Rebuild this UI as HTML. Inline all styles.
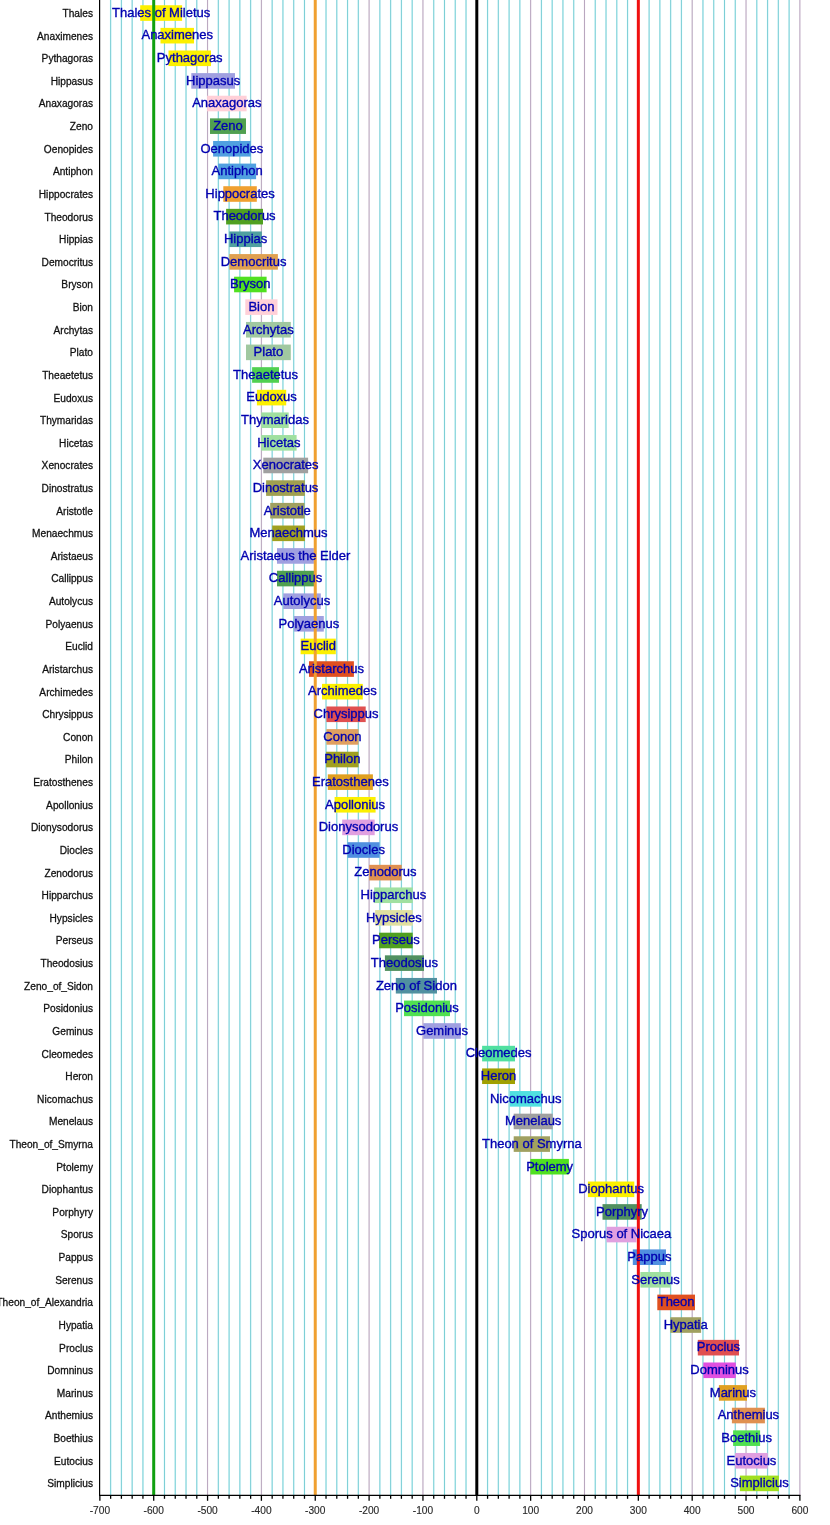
<!DOCTYPE html><html><head><meta charset="utf-8"><style>html,body{margin:0;padding:0;background:#fff;width:830px;height:1525px;overflow:hidden}svg{display:block;will-change:transform}text{font-family:"Liberation Sans",sans-serif}</style></head><body>
<div id="w"><svg width="830" height="1525" viewBox="0 0 830 1525">
<rect width="830" height="1525" fill="#fff"/>
<line x1="110.63" y1="0" x2="110.63" y2="1495.3" stroke="#d8f8fc" stroke-width="1.6"/>
<line x1="110.63" y1="0" x2="110.63" y2="1495.3" stroke="#6cc6ce" stroke-width="0.85"/>
<line x1="121.40" y1="0" x2="121.40" y2="1495.3" stroke="#d8f8fc" stroke-width="1.6"/>
<line x1="121.40" y1="0" x2="121.40" y2="1495.3" stroke="#6cc6ce" stroke-width="0.85"/>
<line x1="132.17" y1="0" x2="132.17" y2="1495.3" stroke="#d8f8fc" stroke-width="1.6"/>
<line x1="132.17" y1="0" x2="132.17" y2="1495.3" stroke="#6cc6ce" stroke-width="0.85"/>
<line x1="142.94" y1="0" x2="142.94" y2="1495.3" stroke="#d8f8fc" stroke-width="1.6"/>
<line x1="142.94" y1="0" x2="142.94" y2="1495.3" stroke="#6cc6ce" stroke-width="0.85"/>
<line x1="164.48" y1="0" x2="164.48" y2="1495.3" stroke="#d8f8fc" stroke-width="1.6"/>
<line x1="164.48" y1="0" x2="164.48" y2="1495.3" stroke="#6cc6ce" stroke-width="0.85"/>
<line x1="175.25" y1="0" x2="175.25" y2="1495.3" stroke="#d8f8fc" stroke-width="1.6"/>
<line x1="175.25" y1="0" x2="175.25" y2="1495.3" stroke="#6cc6ce" stroke-width="0.85"/>
<line x1="186.02" y1="0" x2="186.02" y2="1495.3" stroke="#d8f8fc" stroke-width="1.6"/>
<line x1="186.02" y1="0" x2="186.02" y2="1495.3" stroke="#6cc6ce" stroke-width="0.85"/>
<line x1="196.79" y1="0" x2="196.79" y2="1495.3" stroke="#d8f8fc" stroke-width="1.6"/>
<line x1="196.79" y1="0" x2="196.79" y2="1495.3" stroke="#6cc6ce" stroke-width="0.85"/>
<line x1="218.33" y1="0" x2="218.33" y2="1495.3" stroke="#d8f8fc" stroke-width="1.6"/>
<line x1="218.33" y1="0" x2="218.33" y2="1495.3" stroke="#6cc6ce" stroke-width="0.85"/>
<line x1="229.10" y1="0" x2="229.10" y2="1495.3" stroke="#d8f8fc" stroke-width="1.6"/>
<line x1="229.10" y1="0" x2="229.10" y2="1495.3" stroke="#6cc6ce" stroke-width="0.85"/>
<line x1="239.86" y1="0" x2="239.86" y2="1495.3" stroke="#d8f8fc" stroke-width="1.6"/>
<line x1="239.86" y1="0" x2="239.86" y2="1495.3" stroke="#6cc6ce" stroke-width="0.85"/>
<line x1="250.63" y1="0" x2="250.63" y2="1495.3" stroke="#d8f8fc" stroke-width="1.6"/>
<line x1="250.63" y1="0" x2="250.63" y2="1495.3" stroke="#6cc6ce" stroke-width="0.85"/>
<line x1="272.17" y1="0" x2="272.17" y2="1495.3" stroke="#d8f8fc" stroke-width="1.6"/>
<line x1="272.17" y1="0" x2="272.17" y2="1495.3" stroke="#6cc6ce" stroke-width="0.85"/>
<line x1="282.94" y1="0" x2="282.94" y2="1495.3" stroke="#d8f8fc" stroke-width="1.6"/>
<line x1="282.94" y1="0" x2="282.94" y2="1495.3" stroke="#6cc6ce" stroke-width="0.85"/>
<line x1="293.71" y1="0" x2="293.71" y2="1495.3" stroke="#d8f8fc" stroke-width="1.6"/>
<line x1="293.71" y1="0" x2="293.71" y2="1495.3" stroke="#6cc6ce" stroke-width="0.85"/>
<line x1="304.48" y1="0" x2="304.48" y2="1495.3" stroke="#d8f8fc" stroke-width="1.6"/>
<line x1="304.48" y1="0" x2="304.48" y2="1495.3" stroke="#6cc6ce" stroke-width="0.85"/>
<line x1="326.02" y1="0" x2="326.02" y2="1495.3" stroke="#d8f8fc" stroke-width="1.6"/>
<line x1="326.02" y1="0" x2="326.02" y2="1495.3" stroke="#6cc6ce" stroke-width="0.85"/>
<line x1="336.79" y1="0" x2="336.79" y2="1495.3" stroke="#d8f8fc" stroke-width="1.6"/>
<line x1="336.79" y1="0" x2="336.79" y2="1495.3" stroke="#6cc6ce" stroke-width="0.85"/>
<line x1="347.56" y1="0" x2="347.56" y2="1495.3" stroke="#d8f8fc" stroke-width="1.6"/>
<line x1="347.56" y1="0" x2="347.56" y2="1495.3" stroke="#6cc6ce" stroke-width="0.85"/>
<line x1="358.33" y1="0" x2="358.33" y2="1495.3" stroke="#d8f8fc" stroke-width="1.6"/>
<line x1="358.33" y1="0" x2="358.33" y2="1495.3" stroke="#6cc6ce" stroke-width="0.85"/>
<line x1="379.87" y1="0" x2="379.87" y2="1495.3" stroke="#d8f8fc" stroke-width="1.6"/>
<line x1="379.87" y1="0" x2="379.87" y2="1495.3" stroke="#6cc6ce" stroke-width="0.85"/>
<line x1="390.64" y1="0" x2="390.64" y2="1495.3" stroke="#d8f8fc" stroke-width="1.6"/>
<line x1="390.64" y1="0" x2="390.64" y2="1495.3" stroke="#6cc6ce" stroke-width="0.85"/>
<line x1="401.41" y1="0" x2="401.41" y2="1495.3" stroke="#d8f8fc" stroke-width="1.6"/>
<line x1="401.41" y1="0" x2="401.41" y2="1495.3" stroke="#6cc6ce" stroke-width="0.85"/>
<line x1="412.18" y1="0" x2="412.18" y2="1495.3" stroke="#d8f8fc" stroke-width="1.6"/>
<line x1="412.18" y1="0" x2="412.18" y2="1495.3" stroke="#6cc6ce" stroke-width="0.85"/>
<line x1="433.72" y1="0" x2="433.72" y2="1495.3" stroke="#d8f8fc" stroke-width="1.6"/>
<line x1="433.72" y1="0" x2="433.72" y2="1495.3" stroke="#6cc6ce" stroke-width="0.85"/>
<line x1="444.49" y1="0" x2="444.49" y2="1495.3" stroke="#d8f8fc" stroke-width="1.6"/>
<line x1="444.49" y1="0" x2="444.49" y2="1495.3" stroke="#6cc6ce" stroke-width="0.85"/>
<line x1="455.26" y1="0" x2="455.26" y2="1495.3" stroke="#d8f8fc" stroke-width="1.6"/>
<line x1="455.26" y1="0" x2="455.26" y2="1495.3" stroke="#6cc6ce" stroke-width="0.85"/>
<line x1="466.03" y1="0" x2="466.03" y2="1495.3" stroke="#d8f8fc" stroke-width="1.6"/>
<line x1="466.03" y1="0" x2="466.03" y2="1495.3" stroke="#6cc6ce" stroke-width="0.85"/>
<line x1="487.57" y1="0" x2="487.57" y2="1495.3" stroke="#d8f8fc" stroke-width="1.6"/>
<line x1="487.57" y1="0" x2="487.57" y2="1495.3" stroke="#6cc6ce" stroke-width="0.85"/>
<line x1="498.34" y1="0" x2="498.34" y2="1495.3" stroke="#d8f8fc" stroke-width="1.6"/>
<line x1="498.34" y1="0" x2="498.34" y2="1495.3" stroke="#6cc6ce" stroke-width="0.85"/>
<line x1="509.10" y1="0" x2="509.10" y2="1495.3" stroke="#d8f8fc" stroke-width="1.6"/>
<line x1="509.10" y1="0" x2="509.10" y2="1495.3" stroke="#6cc6ce" stroke-width="0.85"/>
<line x1="519.87" y1="0" x2="519.87" y2="1495.3" stroke="#d8f8fc" stroke-width="1.6"/>
<line x1="519.87" y1="0" x2="519.87" y2="1495.3" stroke="#6cc6ce" stroke-width="0.85"/>
<line x1="541.41" y1="0" x2="541.41" y2="1495.3" stroke="#d8f8fc" stroke-width="1.6"/>
<line x1="541.41" y1="0" x2="541.41" y2="1495.3" stroke="#6cc6ce" stroke-width="0.85"/>
<line x1="552.18" y1="0" x2="552.18" y2="1495.3" stroke="#d8f8fc" stroke-width="1.6"/>
<line x1="552.18" y1="0" x2="552.18" y2="1495.3" stroke="#6cc6ce" stroke-width="0.85"/>
<line x1="562.95" y1="0" x2="562.95" y2="1495.3" stroke="#d8f8fc" stroke-width="1.6"/>
<line x1="562.95" y1="0" x2="562.95" y2="1495.3" stroke="#6cc6ce" stroke-width="0.85"/>
<line x1="573.72" y1="0" x2="573.72" y2="1495.3" stroke="#d8f8fc" stroke-width="1.6"/>
<line x1="573.72" y1="0" x2="573.72" y2="1495.3" stroke="#6cc6ce" stroke-width="0.85"/>
<line x1="595.26" y1="0" x2="595.26" y2="1495.3" stroke="#d8f8fc" stroke-width="1.6"/>
<line x1="595.26" y1="0" x2="595.26" y2="1495.3" stroke="#6cc6ce" stroke-width="0.85"/>
<line x1="606.03" y1="0" x2="606.03" y2="1495.3" stroke="#d8f8fc" stroke-width="1.6"/>
<line x1="606.03" y1="0" x2="606.03" y2="1495.3" stroke="#6cc6ce" stroke-width="0.85"/>
<line x1="616.80" y1="0" x2="616.80" y2="1495.3" stroke="#d8f8fc" stroke-width="1.6"/>
<line x1="616.80" y1="0" x2="616.80" y2="1495.3" stroke="#6cc6ce" stroke-width="0.85"/>
<line x1="627.57" y1="0" x2="627.57" y2="1495.3" stroke="#d8f8fc" stroke-width="1.6"/>
<line x1="627.57" y1="0" x2="627.57" y2="1495.3" stroke="#6cc6ce" stroke-width="0.85"/>
<line x1="649.11" y1="0" x2="649.11" y2="1495.3" stroke="#d8f8fc" stroke-width="1.6"/>
<line x1="649.11" y1="0" x2="649.11" y2="1495.3" stroke="#6cc6ce" stroke-width="0.85"/>
<line x1="659.88" y1="0" x2="659.88" y2="1495.3" stroke="#d8f8fc" stroke-width="1.6"/>
<line x1="659.88" y1="0" x2="659.88" y2="1495.3" stroke="#6cc6ce" stroke-width="0.85"/>
<line x1="670.65" y1="0" x2="670.65" y2="1495.3" stroke="#d8f8fc" stroke-width="1.6"/>
<line x1="670.65" y1="0" x2="670.65" y2="1495.3" stroke="#6cc6ce" stroke-width="0.85"/>
<line x1="681.42" y1="0" x2="681.42" y2="1495.3" stroke="#d8f8fc" stroke-width="1.6"/>
<line x1="681.42" y1="0" x2="681.42" y2="1495.3" stroke="#6cc6ce" stroke-width="0.85"/>
<line x1="702.96" y1="0" x2="702.96" y2="1495.3" stroke="#d8f8fc" stroke-width="1.6"/>
<line x1="702.96" y1="0" x2="702.96" y2="1495.3" stroke="#6cc6ce" stroke-width="0.85"/>
<line x1="713.73" y1="0" x2="713.73" y2="1495.3" stroke="#d8f8fc" stroke-width="1.6"/>
<line x1="713.73" y1="0" x2="713.73" y2="1495.3" stroke="#6cc6ce" stroke-width="0.85"/>
<line x1="724.50" y1="0" x2="724.50" y2="1495.3" stroke="#d8f8fc" stroke-width="1.6"/>
<line x1="724.50" y1="0" x2="724.50" y2="1495.3" stroke="#6cc6ce" stroke-width="0.85"/>
<line x1="735.27" y1="0" x2="735.27" y2="1495.3" stroke="#d8f8fc" stroke-width="1.6"/>
<line x1="735.27" y1="0" x2="735.27" y2="1495.3" stroke="#6cc6ce" stroke-width="0.85"/>
<line x1="756.81" y1="0" x2="756.81" y2="1495.3" stroke="#d8f8fc" stroke-width="1.6"/>
<line x1="756.81" y1="0" x2="756.81" y2="1495.3" stroke="#6cc6ce" stroke-width="0.85"/>
<line x1="767.58" y1="0" x2="767.58" y2="1495.3" stroke="#d8f8fc" stroke-width="1.6"/>
<line x1="767.58" y1="0" x2="767.58" y2="1495.3" stroke="#6cc6ce" stroke-width="0.85"/>
<line x1="778.34" y1="0" x2="778.34" y2="1495.3" stroke="#d8f8fc" stroke-width="1.6"/>
<line x1="778.34" y1="0" x2="778.34" y2="1495.3" stroke="#6cc6ce" stroke-width="0.85"/>
<line x1="789.11" y1="0" x2="789.11" y2="1495.3" stroke="#d8f8fc" stroke-width="1.6"/>
<line x1="789.11" y1="0" x2="789.11" y2="1495.3" stroke="#6cc6ce" stroke-width="0.85"/>
<line x1="153.71" y1="0" x2="153.71" y2="1495.3" stroke="#f6f0f6" stroke-width="1.6"/>
<line x1="153.71" y1="0" x2="153.71" y2="1495.3" stroke="#ac98b4" stroke-width="0.85"/>
<line x1="207.56" y1="0" x2="207.56" y2="1495.3" stroke="#f6f0f6" stroke-width="1.6"/>
<line x1="207.56" y1="0" x2="207.56" y2="1495.3" stroke="#ac98b4" stroke-width="0.85"/>
<line x1="261.40" y1="0" x2="261.40" y2="1495.3" stroke="#f6f0f6" stroke-width="1.6"/>
<line x1="261.40" y1="0" x2="261.40" y2="1495.3" stroke="#ac98b4" stroke-width="0.85"/>
<line x1="315.25" y1="0" x2="315.25" y2="1495.3" stroke="#f6f0f6" stroke-width="1.6"/>
<line x1="315.25" y1="0" x2="315.25" y2="1495.3" stroke="#ac98b4" stroke-width="0.85"/>
<line x1="369.10" y1="0" x2="369.10" y2="1495.3" stroke="#f6f0f6" stroke-width="1.6"/>
<line x1="369.10" y1="0" x2="369.10" y2="1495.3" stroke="#ac98b4" stroke-width="0.85"/>
<line x1="422.95" y1="0" x2="422.95" y2="1495.3" stroke="#f6f0f6" stroke-width="1.6"/>
<line x1="422.95" y1="0" x2="422.95" y2="1495.3" stroke="#ac98b4" stroke-width="0.85"/>
<line x1="476.80" y1="0" x2="476.80" y2="1495.3" stroke="#f6f0f6" stroke-width="1.6"/>
<line x1="476.80" y1="0" x2="476.80" y2="1495.3" stroke="#ac98b4" stroke-width="0.85"/>
<line x1="530.64" y1="0" x2="530.64" y2="1495.3" stroke="#f6f0f6" stroke-width="1.6"/>
<line x1="530.64" y1="0" x2="530.64" y2="1495.3" stroke="#ac98b4" stroke-width="0.85"/>
<line x1="584.49" y1="0" x2="584.49" y2="1495.3" stroke="#f6f0f6" stroke-width="1.6"/>
<line x1="584.49" y1="0" x2="584.49" y2="1495.3" stroke="#ac98b4" stroke-width="0.85"/>
<line x1="638.34" y1="0" x2="638.34" y2="1495.3" stroke="#f6f0f6" stroke-width="1.6"/>
<line x1="638.34" y1="0" x2="638.34" y2="1495.3" stroke="#ac98b4" stroke-width="0.85"/>
<line x1="692.19" y1="0" x2="692.19" y2="1495.3" stroke="#f6f0f6" stroke-width="1.6"/>
<line x1="692.19" y1="0" x2="692.19" y2="1495.3" stroke="#ac98b4" stroke-width="0.85"/>
<line x1="746.04" y1="0" x2="746.04" y2="1495.3" stroke="#f6f0f6" stroke-width="1.6"/>
<line x1="746.04" y1="0" x2="746.04" y2="1495.3" stroke="#ac98b4" stroke-width="0.85"/>
<line x1="799.88" y1="0" x2="799.88" y2="1495.3" stroke="#f6f0f6" stroke-width="1.6"/>
<line x1="799.88" y1="0" x2="799.88" y2="1495.3" stroke="#ac98b4" stroke-width="0.85"/>
<rect x="140.2" y="5.25" width="41.9" height="15.6" fill="#fcf000"/>
<rect x="160.5" y="27.87" width="33.5" height="15.6" fill="#fcf000"/>
<rect x="168.5" y="50.49" width="42.5" height="15.6" fill="#fcf000"/>
<rect x="191.3" y="73.11" width="43.7" height="15.6" fill="#a0a0e0"/>
<rect x="207.1" y="95.73" width="39.5" height="15.6" fill="#ffd0d8"/>
<rect x="210.0" y="118.35" width="36.0" height="15.6" fill="#50a050"/>
<rect x="213.1" y="140.97" width="37.6" height="15.6" fill="#50a0e0"/>
<rect x="218.2" y="163.59" width="37.9" height="15.6" fill="#50a0e0"/>
<rect x="223.3" y="186.21" width="33.5" height="15.6" fill="#f0a030"/>
<rect x="226.1" y="208.84" width="36.9" height="15.6" fill="#50a020"/>
<rect x="229.3" y="231.46" width="32.6" height="15.6" fill="#50a0a0"/>
<rect x="229.3" y="254.08" width="48.6" height="15.6" fill="#e0a050"/>
<rect x="234.1" y="276.70" width="32.5" height="15.6" fill="#50e020"/>
<rect x="245.3" y="299.32" width="32.2" height="15.6" fill="#ffd0d8"/>
<rect x="246.0" y="321.94" width="44.8" height="15.6" fill="#a0c8a0"/>
<rect x="246.0" y="344.56" width="44.8" height="15.6" fill="#a0c8a0"/>
<rect x="252.1" y="367.18" width="26.9" height="15.6" fill="#50d050"/>
<rect x="256.9" y="389.80" width="29.3" height="15.6" fill="#fcf000"/>
<rect x="261.2" y="412.42" width="27.5" height="15.6" fill="#a0e0a0"/>
<rect x="261.2" y="435.04" width="35.4" height="15.6" fill="#a0e0a0"/>
<rect x="263.3" y="457.66" width="44.8" height="15.6" fill="#a0a0a0"/>
<rect x="266.1" y="480.28" width="38.8" height="15.6" fill="#a0a050"/>
<rect x="270.2" y="502.90" width="34.3" height="15.6" fill="#a0a060"/>
<rect x="272.2" y="525.52" width="32.7" height="15.6" fill="#a0a020"/>
<rect x="277.0" y="548.14" width="36.9" height="15.6" fill="#a0a0e0"/>
<rect x="277.0" y="570.76" width="37.1" height="15.6" fill="#50a050"/>
<rect x="283.2" y="593.39" width="37.6" height="15.6" fill="#a0a0e0"/>
<rect x="293.9" y="616.01" width="29.9" height="15.6" fill="#a0a0e0"/>
<rect x="300.6" y="638.63" width="35.2" height="15.6" fill="#fcf000"/>
<rect x="309.0" y="661.25" width="44.9" height="15.6" fill="#e05020"/>
<rect x="322.0" y="683.87" width="40.8" height="15.6" fill="#fcf000"/>
<rect x="326.4" y="706.49" width="39.3" height="15.6" fill="#e05050"/>
<rect x="326.4" y="729.11" width="32.1" height="15.6" fill="#e0a060"/>
<rect x="326.1" y="751.73" width="32.4" height="15.6" fill="#a0a020"/>
<rect x="327.8" y="774.35" width="45.1" height="15.6" fill="#e0a020"/>
<rect x="334.6" y="796.97" width="41.0" height="15.6" fill="#fcf000"/>
<rect x="342.2" y="819.59" width="32.5" height="15.6" fill="#e0a0e0"/>
<rect x="347.6" y="842.21" width="32.0" height="15.6" fill="#5090e0"/>
<rect x="369.2" y="864.83" width="32.5" height="15.6" fill="#e09050"/>
<rect x="374.2" y="887.45" width="38.5" height="15.6" fill="#a0e0a0"/>
<rect x="375.1" y="910.07" width="37.6" height="15.6" fill="#e0e0a0"/>
<rect x="379.1" y="932.69" width="33.6" height="15.6" fill="#50a020"/>
<rect x="384.9" y="955.32" width="39.1" height="15.6" fill="#509060"/>
<rect x="395.8" y="977.94" width="41.2" height="15.6" fill="#5090a0"/>
<rect x="404.0" y="1000.56" width="46.0" height="15.6" fill="#50e050"/>
<rect x="423.3" y="1023.18" width="37.5" height="15.6" fill="#a0a0e0"/>
<rect x="482.1" y="1045.80" width="32.9" height="15.6" fill="#50e0a0"/>
<rect x="482.1" y="1068.42" width="32.9" height="15.6" fill="#a0a000"/>
<rect x="509.8" y="1091.04" width="31.8" height="15.6" fill="#50e0e0"/>
<rect x="513.7" y="1113.66" width="39.0" height="15.6" fill="#a0a0a0"/>
<rect x="513.7" y="1136.28" width="36.3" height="15.6" fill="#a0a060"/>
<rect x="530.4" y="1158.90" width="38.5" height="15.6" fill="#50e020"/>
<rect x="587.9" y="1181.52" width="46.4" height="15.6" fill="#fcf000"/>
<rect x="602.5" y="1204.14" width="39.2" height="15.6" fill="#509060"/>
<rect x="606.5" y="1226.76" width="29.9" height="15.6" fill="#e0a0e0"/>
<rect x="632.8" y="1249.38" width="33.2" height="15.6" fill="#5090e0"/>
<rect x="640.4" y="1272.00" width="30.3" height="15.6" fill="#a0e0a0"/>
<rect x="657.3" y="1294.62" width="37.7" height="15.6" fill="#e05020"/>
<rect x="670.3" y="1317.24" width="30.8" height="15.6" fill="#a0a060"/>
<rect x="697.8" y="1339.87" width="41.2" height="15.6" fill="#e05050"/>
<rect x="703.3" y="1362.49" width="32.5" height="15.6" fill="#e050e0"/>
<rect x="718.9" y="1385.11" width="28.1" height="15.6" fill="#e0a020"/>
<rect x="731.9" y="1407.73" width="33.0" height="15.6" fill="#e09050"/>
<rect x="733.1" y="1430.35" width="27.0" height="15.6" fill="#50e050"/>
<rect x="735.1" y="1452.97" width="32.7" height="15.6" fill="#e0a0e0"/>
<rect x="739.9" y="1475.59" width="39.0" height="15.6" fill="#a0e020"/>
<line x1="153.71" y1="0" x2="153.71" y2="1495.3" stroke="#10a010" stroke-width="3"/>
<line x1="315.25" y1="0" x2="315.25" y2="1495.3" stroke="#f0a030" stroke-width="3"/>
<line x1="476.80" y1="0" x2="476.80" y2="1495.3" stroke="#000" stroke-width="3"/>
<line x1="638.34" y1="0" x2="638.34" y2="1495.3" stroke="#f01010" stroke-width="3"/>
<line x1="99.6" y1="0" x2="99.6" y2="1495.8" stroke="#000" stroke-width="1.2"/>
<line x1="99" y1="1495.3" x2="800.48" y2="1495.3" stroke="#000" stroke-width="1.2"/>
<line x1="99.86" y1="1495.3" x2="99.86" y2="1500.8" stroke="#000" stroke-width="1.3"/>
<line x1="110.63" y1="1495.3" x2="110.63" y2="1498.8" stroke="#000" stroke-width="1.3"/>
<line x1="121.40" y1="1495.3" x2="121.40" y2="1498.8" stroke="#000" stroke-width="1.3"/>
<line x1="132.17" y1="1495.3" x2="132.17" y2="1498.8" stroke="#000" stroke-width="1.3"/>
<line x1="142.94" y1="1495.3" x2="142.94" y2="1498.8" stroke="#000" stroke-width="1.3"/>
<line x1="153.71" y1="1495.3" x2="153.71" y2="1500.8" stroke="#000" stroke-width="1.3"/>
<line x1="164.48" y1="1495.3" x2="164.48" y2="1498.8" stroke="#000" stroke-width="1.3"/>
<line x1="175.25" y1="1495.3" x2="175.25" y2="1498.8" stroke="#000" stroke-width="1.3"/>
<line x1="186.02" y1="1495.3" x2="186.02" y2="1498.8" stroke="#000" stroke-width="1.3"/>
<line x1="196.79" y1="1495.3" x2="196.79" y2="1498.8" stroke="#000" stroke-width="1.3"/>
<line x1="207.56" y1="1495.3" x2="207.56" y2="1500.8" stroke="#000" stroke-width="1.3"/>
<line x1="218.33" y1="1495.3" x2="218.33" y2="1498.8" stroke="#000" stroke-width="1.3"/>
<line x1="229.10" y1="1495.3" x2="229.10" y2="1498.8" stroke="#000" stroke-width="1.3"/>
<line x1="239.86" y1="1495.3" x2="239.86" y2="1498.8" stroke="#000" stroke-width="1.3"/>
<line x1="250.63" y1="1495.3" x2="250.63" y2="1498.8" stroke="#000" stroke-width="1.3"/>
<line x1="261.40" y1="1495.3" x2="261.40" y2="1500.8" stroke="#000" stroke-width="1.3"/>
<line x1="272.17" y1="1495.3" x2="272.17" y2="1498.8" stroke="#000" stroke-width="1.3"/>
<line x1="282.94" y1="1495.3" x2="282.94" y2="1498.8" stroke="#000" stroke-width="1.3"/>
<line x1="293.71" y1="1495.3" x2="293.71" y2="1498.8" stroke="#000" stroke-width="1.3"/>
<line x1="304.48" y1="1495.3" x2="304.48" y2="1498.8" stroke="#000" stroke-width="1.3"/>
<line x1="315.25" y1="1495.3" x2="315.25" y2="1500.8" stroke="#000" stroke-width="1.3"/>
<line x1="326.02" y1="1495.3" x2="326.02" y2="1498.8" stroke="#000" stroke-width="1.3"/>
<line x1="336.79" y1="1495.3" x2="336.79" y2="1498.8" stroke="#000" stroke-width="1.3"/>
<line x1="347.56" y1="1495.3" x2="347.56" y2="1498.8" stroke="#000" stroke-width="1.3"/>
<line x1="358.33" y1="1495.3" x2="358.33" y2="1498.8" stroke="#000" stroke-width="1.3"/>
<line x1="369.10" y1="1495.3" x2="369.10" y2="1500.8" stroke="#000" stroke-width="1.3"/>
<line x1="379.87" y1="1495.3" x2="379.87" y2="1498.8" stroke="#000" stroke-width="1.3"/>
<line x1="390.64" y1="1495.3" x2="390.64" y2="1498.8" stroke="#000" stroke-width="1.3"/>
<line x1="401.41" y1="1495.3" x2="401.41" y2="1498.8" stroke="#000" stroke-width="1.3"/>
<line x1="412.18" y1="1495.3" x2="412.18" y2="1498.8" stroke="#000" stroke-width="1.3"/>
<line x1="422.95" y1="1495.3" x2="422.95" y2="1500.8" stroke="#000" stroke-width="1.3"/>
<line x1="433.72" y1="1495.3" x2="433.72" y2="1498.8" stroke="#000" stroke-width="1.3"/>
<line x1="444.49" y1="1495.3" x2="444.49" y2="1498.8" stroke="#000" stroke-width="1.3"/>
<line x1="455.26" y1="1495.3" x2="455.26" y2="1498.8" stroke="#000" stroke-width="1.3"/>
<line x1="466.03" y1="1495.3" x2="466.03" y2="1498.8" stroke="#000" stroke-width="1.3"/>
<line x1="476.80" y1="1495.3" x2="476.80" y2="1500.8" stroke="#000" stroke-width="1.3"/>
<line x1="487.57" y1="1495.3" x2="487.57" y2="1498.8" stroke="#000" stroke-width="1.3"/>
<line x1="498.34" y1="1495.3" x2="498.34" y2="1498.8" stroke="#000" stroke-width="1.3"/>
<line x1="509.10" y1="1495.3" x2="509.10" y2="1498.8" stroke="#000" stroke-width="1.3"/>
<line x1="519.87" y1="1495.3" x2="519.87" y2="1498.8" stroke="#000" stroke-width="1.3"/>
<line x1="530.64" y1="1495.3" x2="530.64" y2="1500.8" stroke="#000" stroke-width="1.3"/>
<line x1="541.41" y1="1495.3" x2="541.41" y2="1498.8" stroke="#000" stroke-width="1.3"/>
<line x1="552.18" y1="1495.3" x2="552.18" y2="1498.8" stroke="#000" stroke-width="1.3"/>
<line x1="562.95" y1="1495.3" x2="562.95" y2="1498.8" stroke="#000" stroke-width="1.3"/>
<line x1="573.72" y1="1495.3" x2="573.72" y2="1498.8" stroke="#000" stroke-width="1.3"/>
<line x1="584.49" y1="1495.3" x2="584.49" y2="1500.8" stroke="#000" stroke-width="1.3"/>
<line x1="595.26" y1="1495.3" x2="595.26" y2="1498.8" stroke="#000" stroke-width="1.3"/>
<line x1="606.03" y1="1495.3" x2="606.03" y2="1498.8" stroke="#000" stroke-width="1.3"/>
<line x1="616.80" y1="1495.3" x2="616.80" y2="1498.8" stroke="#000" stroke-width="1.3"/>
<line x1="627.57" y1="1495.3" x2="627.57" y2="1498.8" stroke="#000" stroke-width="1.3"/>
<line x1="638.34" y1="1495.3" x2="638.34" y2="1500.8" stroke="#000" stroke-width="1.3"/>
<line x1="649.11" y1="1495.3" x2="649.11" y2="1498.8" stroke="#000" stroke-width="1.3"/>
<line x1="659.88" y1="1495.3" x2="659.88" y2="1498.8" stroke="#000" stroke-width="1.3"/>
<line x1="670.65" y1="1495.3" x2="670.65" y2="1498.8" stroke="#000" stroke-width="1.3"/>
<line x1="681.42" y1="1495.3" x2="681.42" y2="1498.8" stroke="#000" stroke-width="1.3"/>
<line x1="692.19" y1="1495.3" x2="692.19" y2="1500.8" stroke="#000" stroke-width="1.3"/>
<line x1="702.96" y1="1495.3" x2="702.96" y2="1498.8" stroke="#000" stroke-width="1.3"/>
<line x1="713.73" y1="1495.3" x2="713.73" y2="1498.8" stroke="#000" stroke-width="1.3"/>
<line x1="724.50" y1="1495.3" x2="724.50" y2="1498.8" stroke="#000" stroke-width="1.3"/>
<line x1="735.27" y1="1495.3" x2="735.27" y2="1498.8" stroke="#000" stroke-width="1.3"/>
<line x1="746.04" y1="1495.3" x2="746.04" y2="1500.8" stroke="#000" stroke-width="1.3"/>
<line x1="756.81" y1="1495.3" x2="756.81" y2="1498.8" stroke="#000" stroke-width="1.3"/>
<line x1="767.58" y1="1495.3" x2="767.58" y2="1498.8" stroke="#000" stroke-width="1.3"/>
<line x1="778.34" y1="1495.3" x2="778.34" y2="1498.8" stroke="#000" stroke-width="1.3"/>
<line x1="789.11" y1="1495.3" x2="789.11" y2="1498.8" stroke="#000" stroke-width="1.3"/>
<line x1="799.88" y1="1495.3" x2="799.88" y2="1500.8" stroke="#000" stroke-width="1.3"/>
<text transform="translate(99.86,1514) scale(0.925,1)" text-anchor="middle" font-size="11" fill="#2a2a2a" stroke="#2a2a2a" stroke-width="0.15">-700</text>
<text transform="translate(153.71,1514) scale(0.925,1)" text-anchor="middle" font-size="11" fill="#2a2a2a" stroke="#2a2a2a" stroke-width="0.15">-600</text>
<text transform="translate(207.56,1514) scale(0.925,1)" text-anchor="middle" font-size="11" fill="#2a2a2a" stroke="#2a2a2a" stroke-width="0.15">-500</text>
<text transform="translate(261.40,1514) scale(0.925,1)" text-anchor="middle" font-size="11" fill="#2a2a2a" stroke="#2a2a2a" stroke-width="0.15">-400</text>
<text transform="translate(315.25,1514) scale(0.925,1)" text-anchor="middle" font-size="11" fill="#2a2a2a" stroke="#2a2a2a" stroke-width="0.15">-300</text>
<text transform="translate(369.10,1514) scale(0.925,1)" text-anchor="middle" font-size="11" fill="#2a2a2a" stroke="#2a2a2a" stroke-width="0.15">-200</text>
<text transform="translate(422.95,1514) scale(0.925,1)" text-anchor="middle" font-size="11" fill="#2a2a2a" stroke="#2a2a2a" stroke-width="0.15">-100</text>
<text transform="translate(476.80,1514) scale(0.925,1)" text-anchor="middle" font-size="11" fill="#2a2a2a" stroke="#2a2a2a" stroke-width="0.15">0</text>
<text transform="translate(530.64,1514) scale(0.925,1)" text-anchor="middle" font-size="11" fill="#2a2a2a" stroke="#2a2a2a" stroke-width="0.15">100</text>
<text transform="translate(584.49,1514) scale(0.925,1)" text-anchor="middle" font-size="11" fill="#2a2a2a" stroke="#2a2a2a" stroke-width="0.15">200</text>
<text transform="translate(638.34,1514) scale(0.925,1)" text-anchor="middle" font-size="11" fill="#2a2a2a" stroke="#2a2a2a" stroke-width="0.15">300</text>
<text transform="translate(692.19,1514) scale(0.925,1)" text-anchor="middle" font-size="11" fill="#2a2a2a" stroke="#2a2a2a" stroke-width="0.15">400</text>
<text transform="translate(746.04,1514) scale(0.925,1)" text-anchor="middle" font-size="11" fill="#2a2a2a" stroke="#2a2a2a" stroke-width="0.15">500</text>
<text transform="translate(799.88,1514) scale(0.925,1)" text-anchor="middle" font-size="11" fill="#2a2a2a" stroke="#2a2a2a" stroke-width="0.15">600</text>
<text transform="translate(93.0,16.95) scale(0.925,1)" text-anchor="end" font-size="11" fill="#111" stroke="#111" stroke-width="0.3">Thales</text>
<text transform="translate(93.0,39.57) scale(0.925,1)" text-anchor="end" font-size="11" fill="#111" stroke="#111" stroke-width="0.3">Anaximenes</text>
<text transform="translate(93.0,62.19) scale(0.925,1)" text-anchor="end" font-size="11" fill="#111" stroke="#111" stroke-width="0.3">Pythagoras</text>
<text transform="translate(93.0,84.81) scale(0.925,1)" text-anchor="end" font-size="11" fill="#111" stroke="#111" stroke-width="0.3">Hippasus</text>
<text transform="translate(93.0,107.43) scale(0.925,1)" text-anchor="end" font-size="11" fill="#111" stroke="#111" stroke-width="0.3">Anaxagoras</text>
<text transform="translate(93.0,130.05) scale(0.925,1)" text-anchor="end" font-size="11" fill="#111" stroke="#111" stroke-width="0.3">Zeno</text>
<text transform="translate(93.0,152.67) scale(0.925,1)" text-anchor="end" font-size="11" fill="#111" stroke="#111" stroke-width="0.3">Oenopides</text>
<text transform="translate(93.0,175.29) scale(0.925,1)" text-anchor="end" font-size="11" fill="#111" stroke="#111" stroke-width="0.3">Antiphon</text>
<text transform="translate(93.0,197.91) scale(0.925,1)" text-anchor="end" font-size="11" fill="#111" stroke="#111" stroke-width="0.3">Hippocrates</text>
<text transform="translate(93.0,220.54) scale(0.925,1)" text-anchor="end" font-size="11" fill="#111" stroke="#111" stroke-width="0.3">Theodorus</text>
<text transform="translate(93.0,243.16) scale(0.925,1)" text-anchor="end" font-size="11" fill="#111" stroke="#111" stroke-width="0.3">Hippias</text>
<text transform="translate(93.0,265.78) scale(0.925,1)" text-anchor="end" font-size="11" fill="#111" stroke="#111" stroke-width="0.3">Democritus</text>
<text transform="translate(93.0,288.40) scale(0.925,1)" text-anchor="end" font-size="11" fill="#111" stroke="#111" stroke-width="0.3">Bryson</text>
<text transform="translate(93.0,311.02) scale(0.925,1)" text-anchor="end" font-size="11" fill="#111" stroke="#111" stroke-width="0.3">Bion</text>
<text transform="translate(93.0,333.64) scale(0.925,1)" text-anchor="end" font-size="11" fill="#111" stroke="#111" stroke-width="0.3">Archytas</text>
<text transform="translate(93.0,356.26) scale(0.925,1)" text-anchor="end" font-size="11" fill="#111" stroke="#111" stroke-width="0.3">Plato</text>
<text transform="translate(93.0,378.88) scale(0.925,1)" text-anchor="end" font-size="11" fill="#111" stroke="#111" stroke-width="0.3">Theaetetus</text>
<text transform="translate(93.0,401.50) scale(0.925,1)" text-anchor="end" font-size="11" fill="#111" stroke="#111" stroke-width="0.3">Eudoxus</text>
<text transform="translate(93.0,424.12) scale(0.925,1)" text-anchor="end" font-size="11" fill="#111" stroke="#111" stroke-width="0.3">Thymaridas</text>
<text transform="translate(93.0,446.74) scale(0.925,1)" text-anchor="end" font-size="11" fill="#111" stroke="#111" stroke-width="0.3">Hicetas</text>
<text transform="translate(93.0,469.36) scale(0.925,1)" text-anchor="end" font-size="11" fill="#111" stroke="#111" stroke-width="0.3">Xenocrates</text>
<text transform="translate(93.0,491.98) scale(0.925,1)" text-anchor="end" font-size="11" fill="#111" stroke="#111" stroke-width="0.3">Dinostratus</text>
<text transform="translate(93.0,514.60) scale(0.925,1)" text-anchor="end" font-size="11" fill="#111" stroke="#111" stroke-width="0.3">Aristotle</text>
<text transform="translate(93.0,537.22) scale(0.925,1)" text-anchor="end" font-size="11" fill="#111" stroke="#111" stroke-width="0.3">Menaechmus</text>
<text transform="translate(93.0,559.84) scale(0.925,1)" text-anchor="end" font-size="11" fill="#111" stroke="#111" stroke-width="0.3">Aristaeus</text>
<text transform="translate(93.0,582.46) scale(0.925,1)" text-anchor="end" font-size="11" fill="#111" stroke="#111" stroke-width="0.3">Callippus</text>
<text transform="translate(93.0,605.09) scale(0.925,1)" text-anchor="end" font-size="11" fill="#111" stroke="#111" stroke-width="0.3">Autolycus</text>
<text transform="translate(93.0,627.71) scale(0.925,1)" text-anchor="end" font-size="11" fill="#111" stroke="#111" stroke-width="0.3">Polyaenus</text>
<text transform="translate(93.0,650.33) scale(0.925,1)" text-anchor="end" font-size="11" fill="#111" stroke="#111" stroke-width="0.3">Euclid</text>
<text transform="translate(93.0,672.95) scale(0.925,1)" text-anchor="end" font-size="11" fill="#111" stroke="#111" stroke-width="0.3">Aristarchus</text>
<text transform="translate(93.0,695.57) scale(0.925,1)" text-anchor="end" font-size="11" fill="#111" stroke="#111" stroke-width="0.3">Archimedes</text>
<text transform="translate(93.0,718.19) scale(0.925,1)" text-anchor="end" font-size="11" fill="#111" stroke="#111" stroke-width="0.3">Chrysippus</text>
<text transform="translate(93.0,740.81) scale(0.925,1)" text-anchor="end" font-size="11" fill="#111" stroke="#111" stroke-width="0.3">Conon</text>
<text transform="translate(93.0,763.43) scale(0.925,1)" text-anchor="end" font-size="11" fill="#111" stroke="#111" stroke-width="0.3">Philon</text>
<text transform="translate(93.0,786.05) scale(0.925,1)" text-anchor="end" font-size="11" fill="#111" stroke="#111" stroke-width="0.3">Eratosthenes</text>
<text transform="translate(93.0,808.67) scale(0.925,1)" text-anchor="end" font-size="11" fill="#111" stroke="#111" stroke-width="0.3">Apollonius</text>
<text transform="translate(93.0,831.29) scale(0.925,1)" text-anchor="end" font-size="11" fill="#111" stroke="#111" stroke-width="0.3">Dionysodorus</text>
<text transform="translate(93.0,853.91) scale(0.925,1)" text-anchor="end" font-size="11" fill="#111" stroke="#111" stroke-width="0.3">Diocles</text>
<text transform="translate(93.0,876.53) scale(0.925,1)" text-anchor="end" font-size="11" fill="#111" stroke="#111" stroke-width="0.3">Zenodorus</text>
<text transform="translate(93.0,899.15) scale(0.925,1)" text-anchor="end" font-size="11" fill="#111" stroke="#111" stroke-width="0.3">Hipparchus</text>
<text transform="translate(93.0,921.77) scale(0.925,1)" text-anchor="end" font-size="11" fill="#111" stroke="#111" stroke-width="0.3">Hypsicles</text>
<text transform="translate(93.0,944.39) scale(0.925,1)" text-anchor="end" font-size="11" fill="#111" stroke="#111" stroke-width="0.3">Perseus</text>
<text transform="translate(93.0,967.02) scale(0.925,1)" text-anchor="end" font-size="11" fill="#111" stroke="#111" stroke-width="0.3">Theodosius</text>
<text transform="translate(93.0,989.64) scale(0.925,1)" text-anchor="end" font-size="11" fill="#111" stroke="#111" stroke-width="0.3">Zeno_of_Sidon</text>
<text transform="translate(93.0,1012.26) scale(0.925,1)" text-anchor="end" font-size="11" fill="#111" stroke="#111" stroke-width="0.3">Posidonius</text>
<text transform="translate(93.0,1034.88) scale(0.925,1)" text-anchor="end" font-size="11" fill="#111" stroke="#111" stroke-width="0.3">Geminus</text>
<text transform="translate(93.0,1057.50) scale(0.925,1)" text-anchor="end" font-size="11" fill="#111" stroke="#111" stroke-width="0.3">Cleomedes</text>
<text transform="translate(93.0,1080.12) scale(0.925,1)" text-anchor="end" font-size="11" fill="#111" stroke="#111" stroke-width="0.3">Heron</text>
<text transform="translate(93.0,1102.74) scale(0.925,1)" text-anchor="end" font-size="11" fill="#111" stroke="#111" stroke-width="0.3">Nicomachus</text>
<text transform="translate(93.0,1125.36) scale(0.925,1)" text-anchor="end" font-size="11" fill="#111" stroke="#111" stroke-width="0.3">Menelaus</text>
<text transform="translate(93.0,1147.98) scale(0.925,1)" text-anchor="end" font-size="11" fill="#111" stroke="#111" stroke-width="0.3">Theon_of_Smyrna</text>
<text transform="translate(93.0,1170.60) scale(0.925,1)" text-anchor="end" font-size="11" fill="#111" stroke="#111" stroke-width="0.3">Ptolemy</text>
<text transform="translate(93.0,1193.22) scale(0.925,1)" text-anchor="end" font-size="11" fill="#111" stroke="#111" stroke-width="0.3">Diophantus</text>
<text transform="translate(93.0,1215.84) scale(0.925,1)" text-anchor="end" font-size="11" fill="#111" stroke="#111" stroke-width="0.3">Porphyry</text>
<text transform="translate(93.0,1238.46) scale(0.925,1)" text-anchor="end" font-size="11" fill="#111" stroke="#111" stroke-width="0.3">Sporus</text>
<text transform="translate(93.0,1261.08) scale(0.925,1)" text-anchor="end" font-size="11" fill="#111" stroke="#111" stroke-width="0.3">Pappus</text>
<text transform="translate(93.0,1283.70) scale(0.925,1)" text-anchor="end" font-size="11" fill="#111" stroke="#111" stroke-width="0.3">Serenus</text>
<text transform="translate(93.0,1306.32) scale(0.925,1)" text-anchor="end" font-size="11" fill="#111" stroke="#111" stroke-width="0.3">Theon_of_Alexandria</text>
<text transform="translate(93.0,1328.94) scale(0.925,1)" text-anchor="end" font-size="11" fill="#111" stroke="#111" stroke-width="0.3">Hypatia</text>
<text transform="translate(93.0,1351.57) scale(0.925,1)" text-anchor="end" font-size="11" fill="#111" stroke="#111" stroke-width="0.3">Proclus</text>
<text transform="translate(93.0,1374.19) scale(0.925,1)" text-anchor="end" font-size="11" fill="#111" stroke="#111" stroke-width="0.3">Domninus</text>
<text transform="translate(93.0,1396.81) scale(0.925,1)" text-anchor="end" font-size="11" fill="#111" stroke="#111" stroke-width="0.3">Marinus</text>
<text transform="translate(93.0,1419.43) scale(0.925,1)" text-anchor="end" font-size="11" fill="#111" stroke="#111" stroke-width="0.3">Anthemius</text>
<text transform="translate(93.0,1442.05) scale(0.925,1)" text-anchor="end" font-size="11" fill="#111" stroke="#111" stroke-width="0.3">Boethius</text>
<text transform="translate(93.0,1464.67) scale(0.925,1)" text-anchor="end" font-size="11" fill="#111" stroke="#111" stroke-width="0.3">Eutocius</text>
<text transform="translate(93.0,1487.29) scale(0.925,1)" text-anchor="end" font-size="11" fill="#111" stroke="#111" stroke-width="0.3">Simplicius</text>
<text x="161.15" y="16.85" text-anchor="middle" font-size="13" fill="#0000b0" stroke="#0000b0" stroke-width="0.35">Thales of Miletus</text>
<text x="177.25" y="39.47" text-anchor="middle" font-size="13" fill="#0000b0" stroke="#0000b0" stroke-width="0.35">Anaximenes</text>
<text x="189.75" y="62.09" text-anchor="middle" font-size="13" fill="#0000b0" stroke="#0000b0" stroke-width="0.35">Pythagoras</text>
<text x="213.15" y="84.71" text-anchor="middle" font-size="13" fill="#0000b0" stroke="#0000b0" stroke-width="0.35">Hippasus</text>
<text x="226.85" y="107.33" text-anchor="middle" font-size="13" fill="#0000b0" stroke="#0000b0" stroke-width="0.35">Anaxagoras</text>
<text x="228.00" y="129.95" text-anchor="middle" font-size="13" fill="#0000b0" stroke="#0000b0" stroke-width="0.35">Zeno</text>
<text x="231.90" y="152.57" text-anchor="middle" font-size="13" fill="#0000b0" stroke="#0000b0" stroke-width="0.35">Oenopides</text>
<text x="237.15" y="175.19" text-anchor="middle" font-size="13" fill="#0000b0" stroke="#0000b0" stroke-width="0.35">Antiphon</text>
<text x="240.05" y="197.81" text-anchor="middle" font-size="13" fill="#0000b0" stroke="#0000b0" stroke-width="0.35">Hippocrates</text>
<text x="244.55" y="220.44" text-anchor="middle" font-size="13" fill="#0000b0" stroke="#0000b0" stroke-width="0.35">Theodorus</text>
<text x="245.60" y="243.06" text-anchor="middle" font-size="13" fill="#0000b0" stroke="#0000b0" stroke-width="0.35">Hippias</text>
<text x="253.60" y="265.68" text-anchor="middle" font-size="13" fill="#0000b0" stroke="#0000b0" stroke-width="0.35">Democritus</text>
<text x="250.35" y="288.30" text-anchor="middle" font-size="13" fill="#0000b0" stroke="#0000b0" stroke-width="0.35">Bryson</text>
<text x="261.40" y="310.92" text-anchor="middle" font-size="13" fill="#0000b0" stroke="#0000b0" stroke-width="0.35">Bion</text>
<text x="268.40" y="333.54" text-anchor="middle" font-size="13" fill="#0000b0" stroke="#0000b0" stroke-width="0.35">Archytas</text>
<text x="268.40" y="356.16" text-anchor="middle" font-size="13" fill="#0000b0" stroke="#0000b0" stroke-width="0.35">Plato</text>
<text x="265.55" y="378.78" text-anchor="middle" font-size="13" fill="#0000b0" stroke="#0000b0" stroke-width="0.35">Theaetetus</text>
<text x="271.55" y="401.40" text-anchor="middle" font-size="13" fill="#0000b0" stroke="#0000b0" stroke-width="0.35">Eudoxus</text>
<text x="274.95" y="424.02" text-anchor="middle" font-size="13" fill="#0000b0" stroke="#0000b0" stroke-width="0.35">Thymaridas</text>
<text x="278.90" y="446.64" text-anchor="middle" font-size="13" fill="#0000b0" stroke="#0000b0" stroke-width="0.35">Hicetas</text>
<text x="285.70" y="469.26" text-anchor="middle" font-size="13" fill="#0000b0" stroke="#0000b0" stroke-width="0.35">Xenocrates</text>
<text x="285.50" y="491.88" text-anchor="middle" font-size="13" fill="#0000b0" stroke="#0000b0" stroke-width="0.35">Dinostratus</text>
<text x="287.35" y="514.50" text-anchor="middle" font-size="13" fill="#0000b0" stroke="#0000b0" stroke-width="0.35">Aristotle</text>
<text x="288.55" y="537.12" text-anchor="middle" font-size="13" fill="#0000b0" stroke="#0000b0" stroke-width="0.35">Menaechmus</text>
<text x="295.45" y="559.74" text-anchor="middle" font-size="13" fill="#0000b0" stroke="#0000b0" stroke-width="0.35">Aristaeus the Elder</text>
<text x="295.55" y="582.36" text-anchor="middle" font-size="13" fill="#0000b0" stroke="#0000b0" stroke-width="0.35">Callippus</text>
<text x="302.00" y="604.99" text-anchor="middle" font-size="13" fill="#0000b0" stroke="#0000b0" stroke-width="0.35">Autolycus</text>
<text x="308.85" y="627.61" text-anchor="middle" font-size="13" fill="#0000b0" stroke="#0000b0" stroke-width="0.35">Polyaenus</text>
<text x="318.20" y="650.23" text-anchor="middle" font-size="13" fill="#0000b0" stroke="#0000b0" stroke-width="0.35">Euclid</text>
<text x="331.45" y="672.85" text-anchor="middle" font-size="13" fill="#0000b0" stroke="#0000b0" stroke-width="0.35">Aristarchus</text>
<text x="342.40" y="695.47" text-anchor="middle" font-size="13" fill="#0000b0" stroke="#0000b0" stroke-width="0.35">Archimedes</text>
<text x="346.05" y="718.09" text-anchor="middle" font-size="13" fill="#0000b0" stroke="#0000b0" stroke-width="0.35">Chrysippus</text>
<text x="342.45" y="740.71" text-anchor="middle" font-size="13" fill="#0000b0" stroke="#0000b0" stroke-width="0.35">Conon</text>
<text x="342.30" y="763.33" text-anchor="middle" font-size="13" fill="#0000b0" stroke="#0000b0" stroke-width="0.35">Philon</text>
<text x="350.35" y="785.95" text-anchor="middle" font-size="13" fill="#0000b0" stroke="#0000b0" stroke-width="0.35">Eratosthenes</text>
<text x="355.10" y="808.57" text-anchor="middle" font-size="13" fill="#0000b0" stroke="#0000b0" stroke-width="0.35">Apollonius</text>
<text x="358.45" y="831.19" text-anchor="middle" font-size="13" fill="#0000b0" stroke="#0000b0" stroke-width="0.35">Dionysodorus</text>
<text x="363.60" y="853.81" text-anchor="middle" font-size="13" fill="#0000b0" stroke="#0000b0" stroke-width="0.35">Diocles</text>
<text x="385.45" y="876.43" text-anchor="middle" font-size="13" fill="#0000b0" stroke="#0000b0" stroke-width="0.35">Zenodorus</text>
<text x="393.45" y="899.05" text-anchor="middle" font-size="13" fill="#0000b0" stroke="#0000b0" stroke-width="0.35">Hipparchus</text>
<text x="393.90" y="921.67" text-anchor="middle" font-size="13" fill="#0000b0" stroke="#0000b0" stroke-width="0.35">Hypsicles</text>
<text x="395.90" y="944.29" text-anchor="middle" font-size="13" fill="#0000b0" stroke="#0000b0" stroke-width="0.35">Perseus</text>
<text x="404.45" y="966.92" text-anchor="middle" font-size="13" fill="#0000b0" stroke="#0000b0" stroke-width="0.35">Theodosius</text>
<text x="416.40" y="989.54" text-anchor="middle" font-size="13" fill="#0000b0" stroke="#0000b0" stroke-width="0.35">Zeno of Sidon</text>
<text x="427.00" y="1012.16" text-anchor="middle" font-size="13" fill="#0000b0" stroke="#0000b0" stroke-width="0.35">Posidonius</text>
<text x="442.05" y="1034.78" text-anchor="middle" font-size="13" fill="#0000b0" stroke="#0000b0" stroke-width="0.35">Geminus</text>
<text x="498.55" y="1057.40" text-anchor="middle" font-size="13" fill="#0000b0" stroke="#0000b0" stroke-width="0.35">Cleomedes</text>
<text x="498.55" y="1080.02" text-anchor="middle" font-size="13" fill="#0000b0" stroke="#0000b0" stroke-width="0.35">Heron</text>
<text x="525.70" y="1102.64" text-anchor="middle" font-size="13" fill="#0000b0" stroke="#0000b0" stroke-width="0.35">Nicomachus</text>
<text x="533.20" y="1125.26" text-anchor="middle" font-size="13" fill="#0000b0" stroke="#0000b0" stroke-width="0.35">Menelaus</text>
<text x="531.85" y="1147.88" text-anchor="middle" font-size="13" fill="#0000b0" stroke="#0000b0" stroke-width="0.35">Theon of Smyrna</text>
<text x="549.65" y="1170.50" text-anchor="middle" font-size="13" fill="#0000b0" stroke="#0000b0" stroke-width="0.35">Ptolemy</text>
<text x="611.10" y="1193.12" text-anchor="middle" font-size="13" fill="#0000b0" stroke="#0000b0" stroke-width="0.35">Diophantus</text>
<text x="622.10" y="1215.74" text-anchor="middle" font-size="13" fill="#0000b0" stroke="#0000b0" stroke-width="0.35">Porphyry</text>
<text x="621.45" y="1238.36" text-anchor="middle" font-size="13" fill="#0000b0" stroke="#0000b0" stroke-width="0.35">Sporus of Nicaea</text>
<text x="649.40" y="1260.98" text-anchor="middle" font-size="13" fill="#0000b0" stroke="#0000b0" stroke-width="0.35">Pappus</text>
<text x="655.55" y="1283.60" text-anchor="middle" font-size="13" fill="#0000b0" stroke="#0000b0" stroke-width="0.35">Serenus</text>
<text x="676.15" y="1306.22" text-anchor="middle" font-size="13" fill="#0000b0" stroke="#0000b0" stroke-width="0.35">Theon</text>
<text x="685.70" y="1328.84" text-anchor="middle" font-size="13" fill="#0000b0" stroke="#0000b0" stroke-width="0.35">Hypatia</text>
<text x="718.40" y="1351.47" text-anchor="middle" font-size="13" fill="#0000b0" stroke="#0000b0" stroke-width="0.35">Proclus</text>
<text x="719.55" y="1374.09" text-anchor="middle" font-size="13" fill="#0000b0" stroke="#0000b0" stroke-width="0.35">Domninus</text>
<text x="732.95" y="1396.71" text-anchor="middle" font-size="13" fill="#0000b0" stroke="#0000b0" stroke-width="0.35">Marinus</text>
<text x="748.40" y="1419.33" text-anchor="middle" font-size="13" fill="#0000b0" stroke="#0000b0" stroke-width="0.35">Anthemius</text>
<text x="746.60" y="1441.95" text-anchor="middle" font-size="13" fill="#0000b0" stroke="#0000b0" stroke-width="0.35">Boethius</text>
<text x="751.45" y="1464.57" text-anchor="middle" font-size="13" fill="#0000b0" stroke="#0000b0" stroke-width="0.35">Eutocius</text>
<text x="759.40" y="1487.19" text-anchor="middle" font-size="13" fill="#0000b0" stroke="#0000b0" stroke-width="0.35">Simplicius</text>
</svg></div></body></html>
